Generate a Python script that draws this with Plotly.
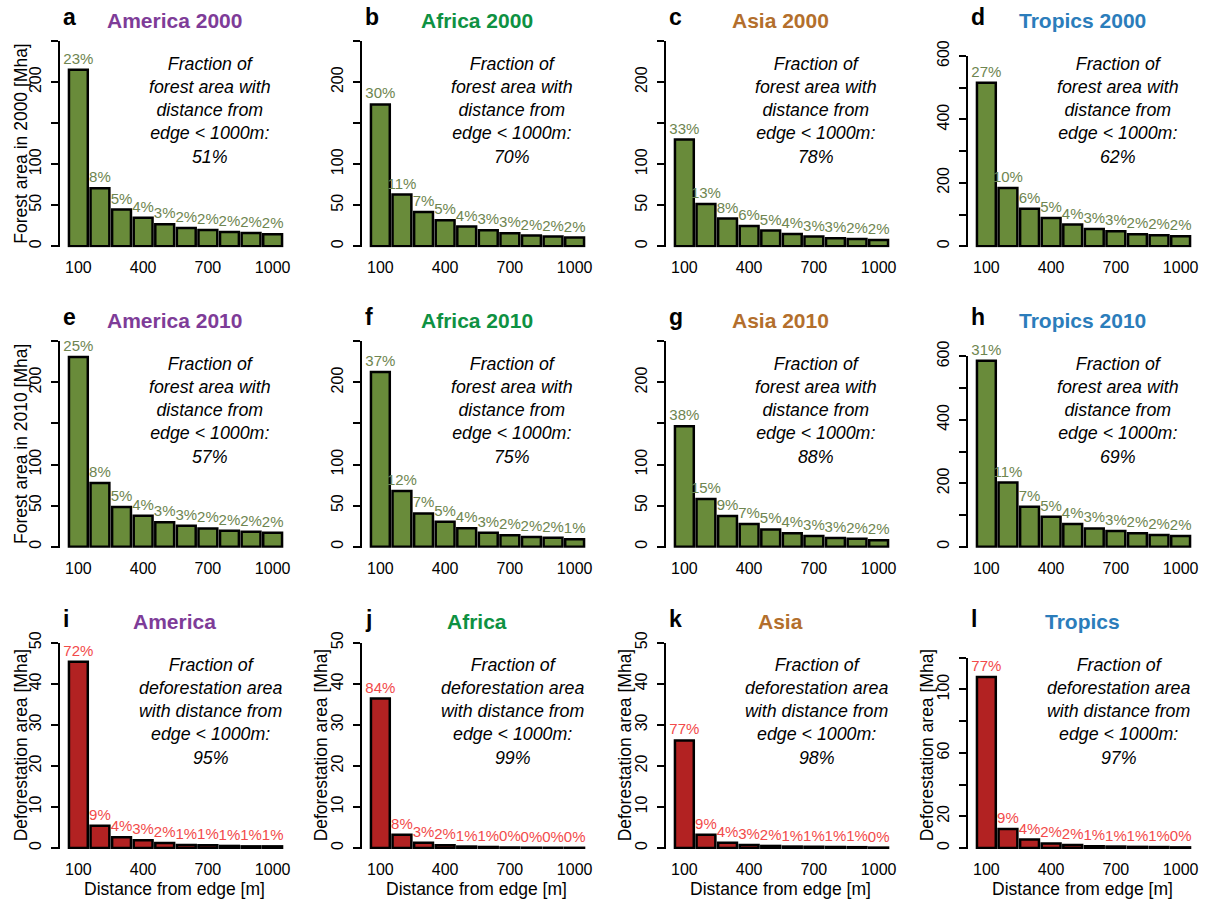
import plotly.graph_objects as go

# ---------------- data ----------------
distances = [100, 200, 300, 400, 500, 600, 700, 800, 900, 1000]
x_tick_vals = [100, 400, 700, 1000]
x_tick_text = ["100", "400", "700", "1000"]

america_2000 = [215, 70.7, 44.7, 34.6, 26.8, 22.4, 19.9, 17.5, 16.3, 14.6]
africa_2000 = [172.8, 63, 41.9, 31.7, 24, 19.5, 15.9, 13, 11.8, 10.6]
asia_2000 = [130, 51.6, 33.7, 24.8, 19.1, 15, 11.8, 9.8, 8.9, 7.7]
tropics_2000 = [516, 184, 118, 89.5, 68.4, 54.7, 47.4, 37.9, 34.7, 31.6]

america_2010 = [231, 77.4, 48.4, 37.5, 29.8, 25.4, 22.2, 19.4, 18.1, 16.9]
africa_2010 = [212.7, 67.7, 40.5, 30.4, 22.3, 17, 13.8, 11.8, 10.9, 8.9]
asia_2010 = [146.7, 58, 37.3, 27.6, 21, 16.2, 13, 10.5, 9.7, 7.7]
tropics_2010 = [586, 202, 125.7, 94.2, 71.2, 57.6, 49.2, 41.9, 36.6, 33.5]

america_defor = [45.4, 5.4, 2.6, 1.9, 1.2, 0.7, 0.65, 0.5, 0.4, 0.4]
africa_defor = [36.4, 3.25, 1.3, 0.65, 0.35, 0.25, 0.12, 0.08, 0.06, 0.05]
asia_defor = [26.2, 3.2, 1.3, 0.7, 0.5, 0.35, 0.3, 0.25, 0.2, 0.1]
tropics_defor = [107.8, 12, 5.3, 2.9, 1.9, 1.1, 0.9, 0.7, 0.6, 0.4]

pct_america_2000 = [23, 8, 5, 4, 3, 2, 2, 2, 2, 2]
pct_africa_2000 = [30, 11, 7, 5, 4, 3, 3, 2, 2, 2]
pct_asia_2000 = [33, 13, 8, 6, 5, 4, 3, 3, 2, 2]
pct_tropics_2000 = [27, 10, 6, 5, 4, 3, 3, 2, 2, 2]
pct_america_2010 = [25, 8, 5, 4, 3, 3, 2, 2, 2, 2]
pct_africa_2010 = [37, 12, 7, 5, 4, 3, 2, 2, 2, 1]
pct_asia_2010 = [38, 15, 9, 7, 5, 4, 3, 3, 2, 2]
pct_tropics_2010 = [31, 11, 7, 5, 4, 3, 3, 2, 2, 2]
pct_america_defor = [72, 9, 4, 3, 2, 1, 1, 1, 1, 1]
pct_africa_defor = [84, 8, 3, 2, 1, 1, 0, 0, 0, 0]
pct_asia_defor = [77, 9, 4, 3, 2, 1, 1, 1, 1, 0]
pct_tropics_defor = [77, 9, 4, 2, 2, 1, 1, 1, 1, 0]

fraction_total = [51, 70, 78, 62, 57, 75, 88, 69, 95, 99, 98, 97]
panel_letters = ["a", "b", "c", "d", "e", "f", "g", "h", "i", "j", "k", "l"]
regions = ["America", "Africa", "Asia", "Tropics"]
region_colors = ["#7E3C98", "#0E9142", "#B36F2C", "#2B7DBB"]
row_suffix = [" 2000", " 2010", ""]

rows_values = [
    [america_2000, africa_2000, asia_2000, tropics_2000],
    [america_2010, africa_2010, asia_2010, tropics_2010],
    [america_defor, africa_defor, asia_defor, tropics_defor],
]
rows_pct = [
    [pct_america_2000, pct_africa_2000, pct_asia_2000, pct_tropics_2000],
    [pct_america_2010, pct_africa_2010, pct_asia_2010, pct_tropics_2010],
    [pct_america_defor, pct_africa_defor, pct_asia_defor, pct_tropics_defor],
]
# y axis: (top, tick step, labelled ticks)
y_specs = [
    [(250, 50, [0, 50, 100, 200])] * 3 + [(600, 100, [0, 200, 400, 600])],
    [(250, 50, [0, 50, 100, 200])] * 3 + [(600, 100, [0, 200, 400, 600])],
    [(50, 10, [0, 10, 20, 30, 40, 50])] * 3 + [(120, 20, [0, 20, 60, 100])],
]

# ---------------- layout geometry ----------------
W, H = 1207, 903
FONT = "Liberation Sans, Arial, sans-serif"
col_left = [60, 362, 666, 968]
col_w = 231


def vy(px):
    """target pixel row -> paper fraction (compensates observed vertical offset)"""
    p = (px - 17) / 0.98
    return 1 - p / H


row_top = [42, 342, 643]          # panel header reference
axis_top = [[42, 42, 42, 57], [342, 342, 342, 357], [643, 643, 643, 658]]
row_zero = [247, 547, 848]

bar_green = "#698B3A"
txt_green = "#6E8550"
bar_red = "#B22222"
txt_red = "#F24A4A"

fig = go.Figure()
layout = dict(
    width=W, height=H, margin=dict(l=0, r=0, t=0, b=0),
    paper_bgcolor="white", plot_bgcolor="white",
    showlegend=False, font=dict(family=FONT, color="black"),
)
annotations = []

bar_w = 100 / 1.1
x_lo = 100 + (-0.336 - 0.6) * bar_w
x_hi = 100 + (11.436 - 0.6) * bar_w

for r in range(3):
    for c in range(4):
        k = r * 4 + c
        n = k + 1
        xa = "xaxis" if n == 1 else f"xaxis{n}"
        ya = "yaxis" if n == 1 else f"yaxis{n}"
        xr = "x" if n == 1 else f"x{n}"
        yr = "y" if n == 1 else f"y{n}"
        vals = rows_values[r][c]
        pct = rows_pct[r][c]
        top, step, labelled = y_specs[r][c]
        span_px = row_zero[r] - axis_top[r][c]
        pad = top / span_px * 1.0
        is_def = r == 2
        fig.add_trace(go.Bar(
            x=distances, y=vals, width=bar_w * 0.96,
            marker=dict(color=bar_red if is_def else bar_green,
                        line=dict(color="black", width=2.5)),
            text=[f"{p}%" for p in pct], textposition="outside",
            textfont=dict(family=FONT, size=15, color=txt_red if is_def else txt_green),
            constraintext="none", cliponaxis=False,
            xaxis=xr, yaxis=yr, hoverinfo="skip",
        ))
        x0 = col_left[c] / W
        x1 = (col_left[c] + col_w) / W
        y1 = vy(axis_top[r][c])
        y0 = vy(row_zero[r] + 1)
        tickvals = list(range(0, top + 1, step))
        ticktext = [str(v) if v in labelled else "" for v in tickvals]
        layout[xa] = dict(
            domain=[x0, x1], range=[x_lo, x_hi], anchor=yr,
            showline=False, showgrid=False, zeroline=False, ticks="",
            tickmode="array", tickvals=x_tick_vals, ticktext=x_tick_text,
            tickfont=dict(family=FONT, size=16, color="black"),
            ticklabelstandoff=9,
        )
        layout[ya] = dict(
            domain=[y0, y1], range=[-pad, top], anchor=xr,
            showline=True, linecolor="black", linewidth=2,
            showgrid=False, zeroline=False,
            ticks="outside", ticklen=7, tickwidth=2, tickcolor="black",
            tickmode="array", tickvals=tickvals, ticktext=ticktext,
            tickangle=-90, tickfont=dict(family=FONT, size=16, color="black"),
            ticklabelstandoff=4,
        )
        # panel letter
        annotations.append(dict(
            xref="paper", yref="paper", x=(col_left[c] + 1) / W, y=vy(row_top[r] - 24),
            xanchor="left", yanchor="middle", showarrow=False,
            text=f"<b>{panel_letters[k]}</b>",
            font=dict(family=FONT, size=23, color="black"),
        ))
        # title
        annotations.append(dict(
            xref="paper", yref="paper", x=(col_left[c] + col_w / 2 - 1) / W,
            y=vy(row_top[r] - 21),
            xanchor="center", yanchor="middle", showarrow=False,
            text=f"<b>{regions[c]}{row_suffix[r]}</b>",
            font=dict(family=FONT, size=21, color=region_colors[c]),
        ))
        # fraction text
        if is_def:
            lines = ["Fraction of", "deforestation area", "with distance from",
                     "edge &lt; 1000m:", f"{fraction_total[k]}%"]
        else:
            lines = ["Fraction of", "forest area with", "distance from",
                     "edge &lt; 1000m:", f"{fraction_total[k]}%"]
        annotations.append(dict(
            xref="paper", yref="paper", x=(col_left[c] + 150) / W,
            y=vy(row_top[r] + 69),
            xanchor="center", yanchor="middle", showarrow=False,
            text="<i>" + "<br>".join(lines) + "</i>",
            font=dict(family=FONT, size=17.8, color="black"),
        ))
        # y axis titles
        ytitle = None
        if r == 0 and c == 0:
            ytitle = "Forest area in 2000 [Mha]"
        elif r == 1 and c == 0:
            ytitle = "Forest area in 2010 [Mha]"
        elif r == 2:
            ytitle = "Deforestation area [Mha]"
        if ytitle:
            annotations.append(dict(
                xref="paper", yref="paper", x=(col_left[c] - (39 if c == 0 else 41)) / W,
                y=vy((row_top[r] + row_zero[r]) / 2),
                xanchor="center", yanchor="middle", showarrow=False, textangle=-90,
                text=ytitle, font=dict(family=FONT, size=17.5, color="black"),
            ))
        if r == 2:
            annotations.append(dict(
                xref="paper", yref="paper", x=(col_left[c] + col_w / 2 - 1) / W,
                y=vy(889),
                xanchor="center", yanchor="middle", showarrow=False,
                text="Distance from edge [m]",
                font=dict(family=FONT, size=17.5, color="black"),
            ))

layout["annotations"] = annotations
fig.update_layout(**layout)
fig.write_html("out.html")
